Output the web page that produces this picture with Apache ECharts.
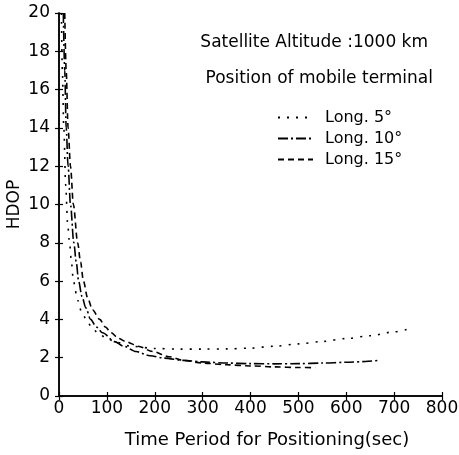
<!DOCTYPE html>
<html>
<head>
<meta charset="utf-8">
<script src="https://cdn.jsdelivr.net/npm/echarts@6/dist/echarts.min.js"></script>
<style>
  html, body { margin: 0; padding: 0; background: #fff; }
  #chart { width: 459px; height: 455px; }
</style>
</head>
<body>
<div id="chart"></div>
<script>
// HDOP vs positioning time, satellite altitude 1000 km
var long5 = [[5,20],[7,17],[10,14],[14,11],[18,9],[22,8],[26,7],[30,6],[39,5],[47,4.4],[57,4],[68,3.6],[81,3.3],[100,3.0],[120,2.8],[150,2.6],[200,2.48],[250,2.45],[300,2.45],[350,2.46],[400,2.5],[450,2.6],[500,2.72],[550,2.85],[600,3.0],[650,3.15],[700,3.35],[730,3.5]];
var long10 = [[9,20],[12,17],[15,14],[19,12],[24,10],[31,8],[36,7],[41,6],[48,5.2],[56,4.6],[66,4],[78,3.6],[91,3.3],[116,2.84],[135,2.6],[161,2.32],[190,2.1],[220,1.98],[260,1.86],[300,1.78],[350,1.72],[400,1.69],[450,1.68],[500,1.69],[550,1.72],[600,1.76],[640,1.8],[666,1.86]];
var long15 = [[12,20],[15,17],[19,14],[24,12],[30,10],[39,8],[45,7],[51,6],[60,5.1],[70,4.5],[85,4],[97,3.6],[109,3.3],[125,3.0],[140,2.84],[165,2.6],[196,2.32],[230,2.05],[260,1.86],[300,1.72],[350,1.63],[400,1.57],[450,1.52],[500,1.49],[535,1.48]];
var seriesNames = ['Long. 5°', 'Long. 10°', 'Long. 15°'];

var font = 'DejaVu Sans, sans-serif';
var myChart = echarts.init(document.getElementById('chart'));

function lineSeries(name, data, dash) {
  return {
    name: name,
    type: 'line',
    data: data,
    symbol: 'none',
    smooth: 0.3,
    smoothMonotone: 'x',
    lineStyle: { color: '#000', width: 1.6, type: dash },
    itemStyle: { color: '#000' }
  }
}

var tickStyle = { inside: true, length: 4, lineStyle: { color: '#000', width: 1.2 } };
var lineAx = { lineStyle: { color: '#000', width: 1.5 } };

myChart.setOption({
  backgroundColor: '#fff',
  animation: false,
  textStyle: { fontFamily: font, color: '#000' },
  title: [
    { text: 'Satellite Altitude :1000 km', right: 26, top: 29,
      textStyle: { fontSize: 17, fontWeight: 'normal', color: '#000', fontFamily: font } },
    { text: 'Position of mobile terminal', right: 21, top: 65,
      textStyle: { fontSize: 17, fontWeight: 'normal', color: '#000', fontFamily: font } }
  ],
  legend: {
    data: seriesNames,
    orient: 'vertical',
    left: 272,
    top: 104,
    itemGap: 4,
    itemWidth: 35,
    itemHeight: 14,
    itemStyle: { color: 'rgba(0,0,0,0)', borderWidth: 0 },
    textStyle: { fontSize: 16, color: '#000', fontFamily: font, padding: [0, 0, 0, 7], lineHeight: 17 }
  },
  grid: { left: 59, right: 17, top: 13, bottom: 59, outerBoundsMode: 'none', containLabel: false },
  xAxis: [
    {
      type: 'value', min: 0, max: 800, interval: 100,
      name: 'Time Period for Positioning(sec)',
      nameLocation: 'middle', nameGap: 35, nameMoveOverlap: false,
      nameTextStyle: { fontSize: 18, color: '#000', fontFamily: font, padding: [0, 0, 0, 33] },
      axisLine: lineAx,
      axisTick: tickStyle,
      axisLabel: { fontSize: 17, color: '#000', margin: 4, fontFamily: font },
      splitLine: { show: false }
    },
    {
      type: 'value', min: 0, max: 800, interval: 100, position: 'top',
      axisLine: lineAx,
      axisTick: tickStyle,
      axisLabel: { show: false },
      splitLine: { show: false }
    }
  ],
  yAxis: [
    {
      type: 'value', min: 0, max: 20, interval: 2,
      name: 'HDOP',
      nameLocation: 'middle', nameGap: 36, nameMoveOverlap: false,
      nameTextStyle: { fontSize: 17, color: '#000', fontFamily: font },
      axisLine: lineAx,
      axisTick: tickStyle,
      axisLabel: { fontSize: 17, color: '#000', margin: 9, fontFamily: font },
      splitLine: { show: false }
    },
    {
      type: 'value', min: 0, max: 20, interval: 2, position: 'right',
      axisLine: lineAx,
      axisTick: tickStyle,
      axisLabel: { show: false },
      splitLine: { show: false }
    }
  ],
  series: [
    lineSeries(seriesNames[0], long5, [2, 7]),
    lineSeries(seriesNames[1], long10, [10, 3, 2, 3]),
    lineSeries(seriesNames[2], long15, [6, 4])
  ]
})
</script>
</body>
</html>
